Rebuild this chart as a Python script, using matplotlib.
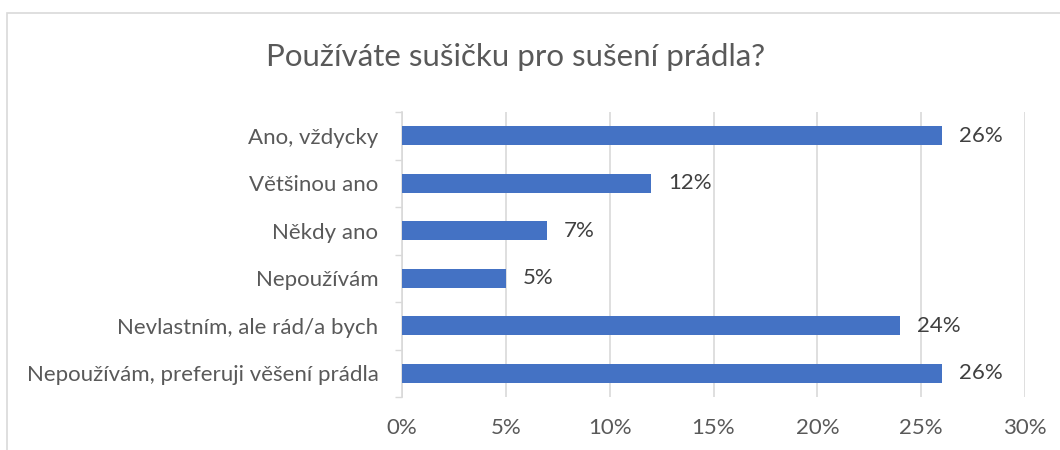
import matplotlib
matplotlib.use("Agg")
import matplotlib.pyplot as plt
from matplotlib.patches import Rectangle
from matplotlib.ticker import FixedLocator

# data (top to bottom as in the chart)
categories = ["Ano, vždycky", "Většinou ano", "Někdy ano", "Nepoužívám",
              "Nevlastním, ale rád/a bych", "Nepoužívám, preferuji věšení prádla"]
values = [26, 12, 7, 5, 24, 26]
xticks = [0, 5, 10, 15, 20, 25, 30]
title = "Používáte sušičku pro sušení prádla?"

plt.rcParams['font.family'] = ['Lato', 'DejaVu Sans']

W, H = 1060, 450
fig = plt.figure(figsize=(W / 100, H / 100), dpi=100)
fig.patch.set_facecolor('white')

# chart area border (light grey, cut off at right/bottom)
fig.patches.append(Rectangle((7 / W, -0.1), 1.2, 1 - 13 / H + 0.1, transform=fig.transFigure,
                             fill=False, edgecolor='#D9D9D9', linewidth=1.2))

ax = fig.add_axes([402 / W, 1 - 397 / H, (1025 - 402) / W, (397 - 112) / H])

ypos = list(range(len(categories)))
ax.barh(ypos, values, height=0.4, color='#4472C4', zorder=3)
ax.set_ylim(len(categories) - 0.5, -0.5)
ax.set_xlim(0, 30)

for y, v in zip(ypos, values):
    ax.annotate(f"{v}%", (v, y), xytext=(12, 0), textcoords='offset points',
                va='center', ha='left', fontsize=16, color='#404040')

ax.set_xticks(xticks)
ax.set_xticklabels([f"{t}%" for t in xticks])
ax.set_yticks(ypos)
ax.set_yticklabels(categories)
ax.yaxis.set_minor_locator(FixedLocator([i - 0.5 for i in range(len(categories) + 1)]))

ax.tick_params(axis='x', length=0, pad=15, labelsize=16, labelcolor='#595959')
ax.tick_params(axis='y', which='major', length=0, pad=17, labelsize=16, labelcolor='#595959')
ax.tick_params(axis='y', which='minor', length=5, width=1, color='#D9D9D9')

ax.grid(axis='x', color='#D9D9D9', linewidth=1.2, zorder=0)
for s in ['top', 'right', 'bottom']:
    ax.spines[s].set_visible(False)
ax.spines['left'].set_color('#D9D9D9')
ax.spines['left'].set_linewidth(1.2)

fig.text(516 / W, 1 - 57 / H, title, ha='center', va='center', fontsize=22.5, color='#595959')

fig.savefig("out.png", dpi=100)
